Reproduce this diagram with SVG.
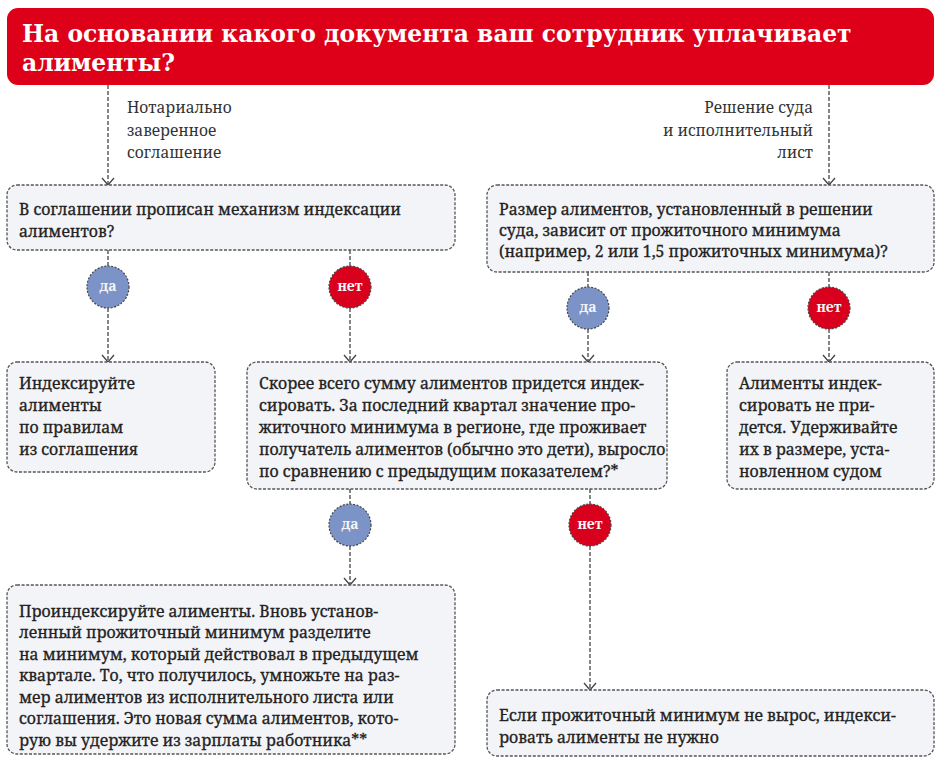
<svg xmlns="http://www.w3.org/2000/svg" width="942" height="768" viewBox="0 0 942 768">
<defs>
<marker id="arr" markerWidth="10" markerHeight="14" refX="8" refY="7" orient="auto" markerUnits="userSpaceOnUse" viewBox="0 0 10 14">
<path d="M1,1 L8,7 L1,13" fill="none" stroke="#444" stroke-width="1.3"/>
</marker>
</defs>
<style>
.box{fill:#f3f4f8;stroke:#555;stroke-width:1.3;stroke-dasharray:3 1.6}
.t{font-size:15.8px;fill:#222;stroke:#222;stroke-width:0.3}
.lbl{font-size:15.5px;fill:#333}
.ttl{font-size:23.4px;font-weight:bold;fill:#fff}
.ct{font-size:14px;font-weight:bold;fill:#f4f4f8;text-anchor:middle}
.yes{fill:#7b93c6;stroke:#444;stroke-width:1.2;stroke-dasharray:2 1.5}
.no{fill:#d8001c;stroke:#444;stroke-width:1.2;stroke-dasharray:2 1.5}
.c{fill:none;stroke:#444;stroke-width:1.3;stroke-dasharray:4 2}
</style>
<rect width="942" height="768" fill="#fff"/>
<g id="connectors">
<line class="c" x1="108" y1="85" x2="108" y2="185" marker-end="url(#arr)"/>
<line class="c" x1="829" y1="85" x2="829" y2="185" marker-end="url(#arr)"/>
<line class="c" x1="108" y1="250" x2="108" y2="266"/>
<line class="c" x1="108" y1="308" x2="108" y2="362" marker-end="url(#arr)"/>
<line class="c" x1="350" y1="250" x2="350" y2="266"/>
<line class="c" x1="350" y1="308" x2="350" y2="362" marker-end="url(#arr)"/>
<line class="c" x1="588" y1="272" x2="588" y2="287"/>
<line class="c" x1="588" y1="329" x2="588" y2="362" marker-end="url(#arr)"/>
<line class="c" x1="829" y1="272" x2="829" y2="287"/>
<line class="c" x1="829" y1="329" x2="829" y2="362" marker-end="url(#arr)"/>
<line class="c" x1="350" y1="489" x2="350" y2="504"/>
<line class="c" x1="350" y1="546" x2="350" y2="585" marker-end="url(#arr)"/>
<line class="c" x1="590" y1="489" x2="590" y2="504"/>
<line class="c" x1="590" y1="546" x2="590" y2="690" marker-end="url(#arr)"/>
</g>
<g id="title" font-family="DejaVu Serif, Noto Serif, serif">
<rect x="7" y="8" width="927" height="77" rx="11" fill="#de0019"/>
<text class="ttl" x="22" y="42">На основании какого документа ваш сотрудник уплачивает</text>
<text class="ttl" x="22" y="71">алименты?</text>
</g>
<g font-family="Noto Serif, DejaVu Serif, serif">
<g id="label-notary">
<text class="lbl" x="127" y="113">Нотариально</text>
<text class="lbl" x="127" y="136">заверенное</text>
<text class="lbl" x="127" y="158">соглашение</text>
</g>
<g id="label-court">
<text class="lbl" x="813" y="113" text-anchor="end">Решение суда</text>
<text class="lbl" x="813" y="136" text-anchor="end">и исполнительный</text>
<text class="lbl" x="813" y="158" text-anchor="end">лист</text>
</g>
<g id="q1">
<rect class="box" x="7" y="185" width="448" height="65" rx="10"/>
<text class="t" x="19" y="215">В соглашении прописан механизм индексации</text>
<text class="t" x="19" y="237">алиментов?</text>
</g>
<g id="q2">
<rect class="box" x="487" y="185" width="447" height="87" rx="10"/>
<text class="t" x="499" y="215">Размер алиментов, установленный в решении</text>
<text class="t" x="499" y="236">суда, зависит от прожиточного минимума</text>
<text class="t" x="499" y="257">(например, 2 или 1,5 прожиточных минимума)?</text>
</g>
<g id="c1-yes"><circle class="yes" cx="108" cy="287" r="21"/><text class="ct" x="108" y="291">да</text></g>
<g id="c1-no"><circle class="no" cx="350" cy="287" r="21"/><text class="ct" x="350" y="291">нет</text></g>
<g id="c2-yes"><circle class="yes" cx="588" cy="308" r="21"/><text class="ct" x="588" y="312">да</text></g>
<g id="c2-no"><circle class="no" cx="829" cy="308" r="21"/><text class="ct" x="829" y="312">нет</text></g>
<g id="a1">
<rect class="box" x="7" y="362" width="208" height="110" rx="10"/>
<text class="t" x="19" y="389">Индексируйте</text>
<text class="t" x="19" y="411">алименты</text>
<text class="t" x="19" y="433">по правилам</text>
<text class="t" x="19" y="455">из соглашения</text>
</g>
<g id="q3">
<rect class="box" x="247" y="362" width="420" height="127" rx="10"/>
<text class="t" x="259" y="389">Скорее всего сумму алиментов придется индек-</text>
<text class="t" x="259" y="411">сировать. За последний квартал значение про-</text>
<text class="t" x="259" y="433">житочного минимума в регионе, где проживает</text>
<text class="t" x="259" y="455">получатель алиментов (обычно это дети), выросло</text>
<text class="t" x="259" y="477">по сравнению с предыдущим показателем?*</text>
</g>
<g id="a2">
<rect class="box" x="727" y="362" width="207" height="127" rx="10"/>
<text class="t" x="739" y="389">Алименты индек-</text>
<text class="t" x="739" y="411">сировать не при-</text>
<text class="t" x="739" y="433">дется. Удерживайте</text>
<text class="t" x="739" y="455">их в размере, уста-</text>
<text class="t" x="739" y="477">новленном судом</text>
</g>
<g id="c3-yes"><circle class="yes" cx="350" cy="525" r="21"/><text class="ct" x="350" y="529">да</text></g>
<g id="c3-no"><circle class="no" cx="590" cy="525" r="21"/><text class="ct" x="590" y="529">нет</text></g>
<g id="a3">
<rect class="box" x="7" y="585" width="448" height="169" rx="10"/>
<text class="t" x="19" y="617">Проиндексируйте алименты. Вновь установ-</text>
<text class="t" x="19" y="638">ленный прожиточный минимум разделите</text>
<text class="t" x="19" y="660">на минимум, который действовал в предыдущем</text>
<text class="t" x="19" y="681">квартале. То, что получилось, умножьте на раз-</text>
<text class="t" x="19" y="703">мер алиментов из исполнительного листа или</text>
<text class="t" x="19" y="724">соглашения. Это новая сумма алиментов, кото-</text>
<text class="t" x="19" y="746">рую вы удержите из зарплаты работника**</text>
</g>
<g id="a4">
<rect class="box" x="487" y="690" width="447" height="66" rx="10"/>
<text class="t" x="499" y="721">Если прожиточный минимум не вырос, индекси-</text>
<text class="t" x="499" y="743">ровать алименты не нужно</text>
</g>
</g>
</svg>
